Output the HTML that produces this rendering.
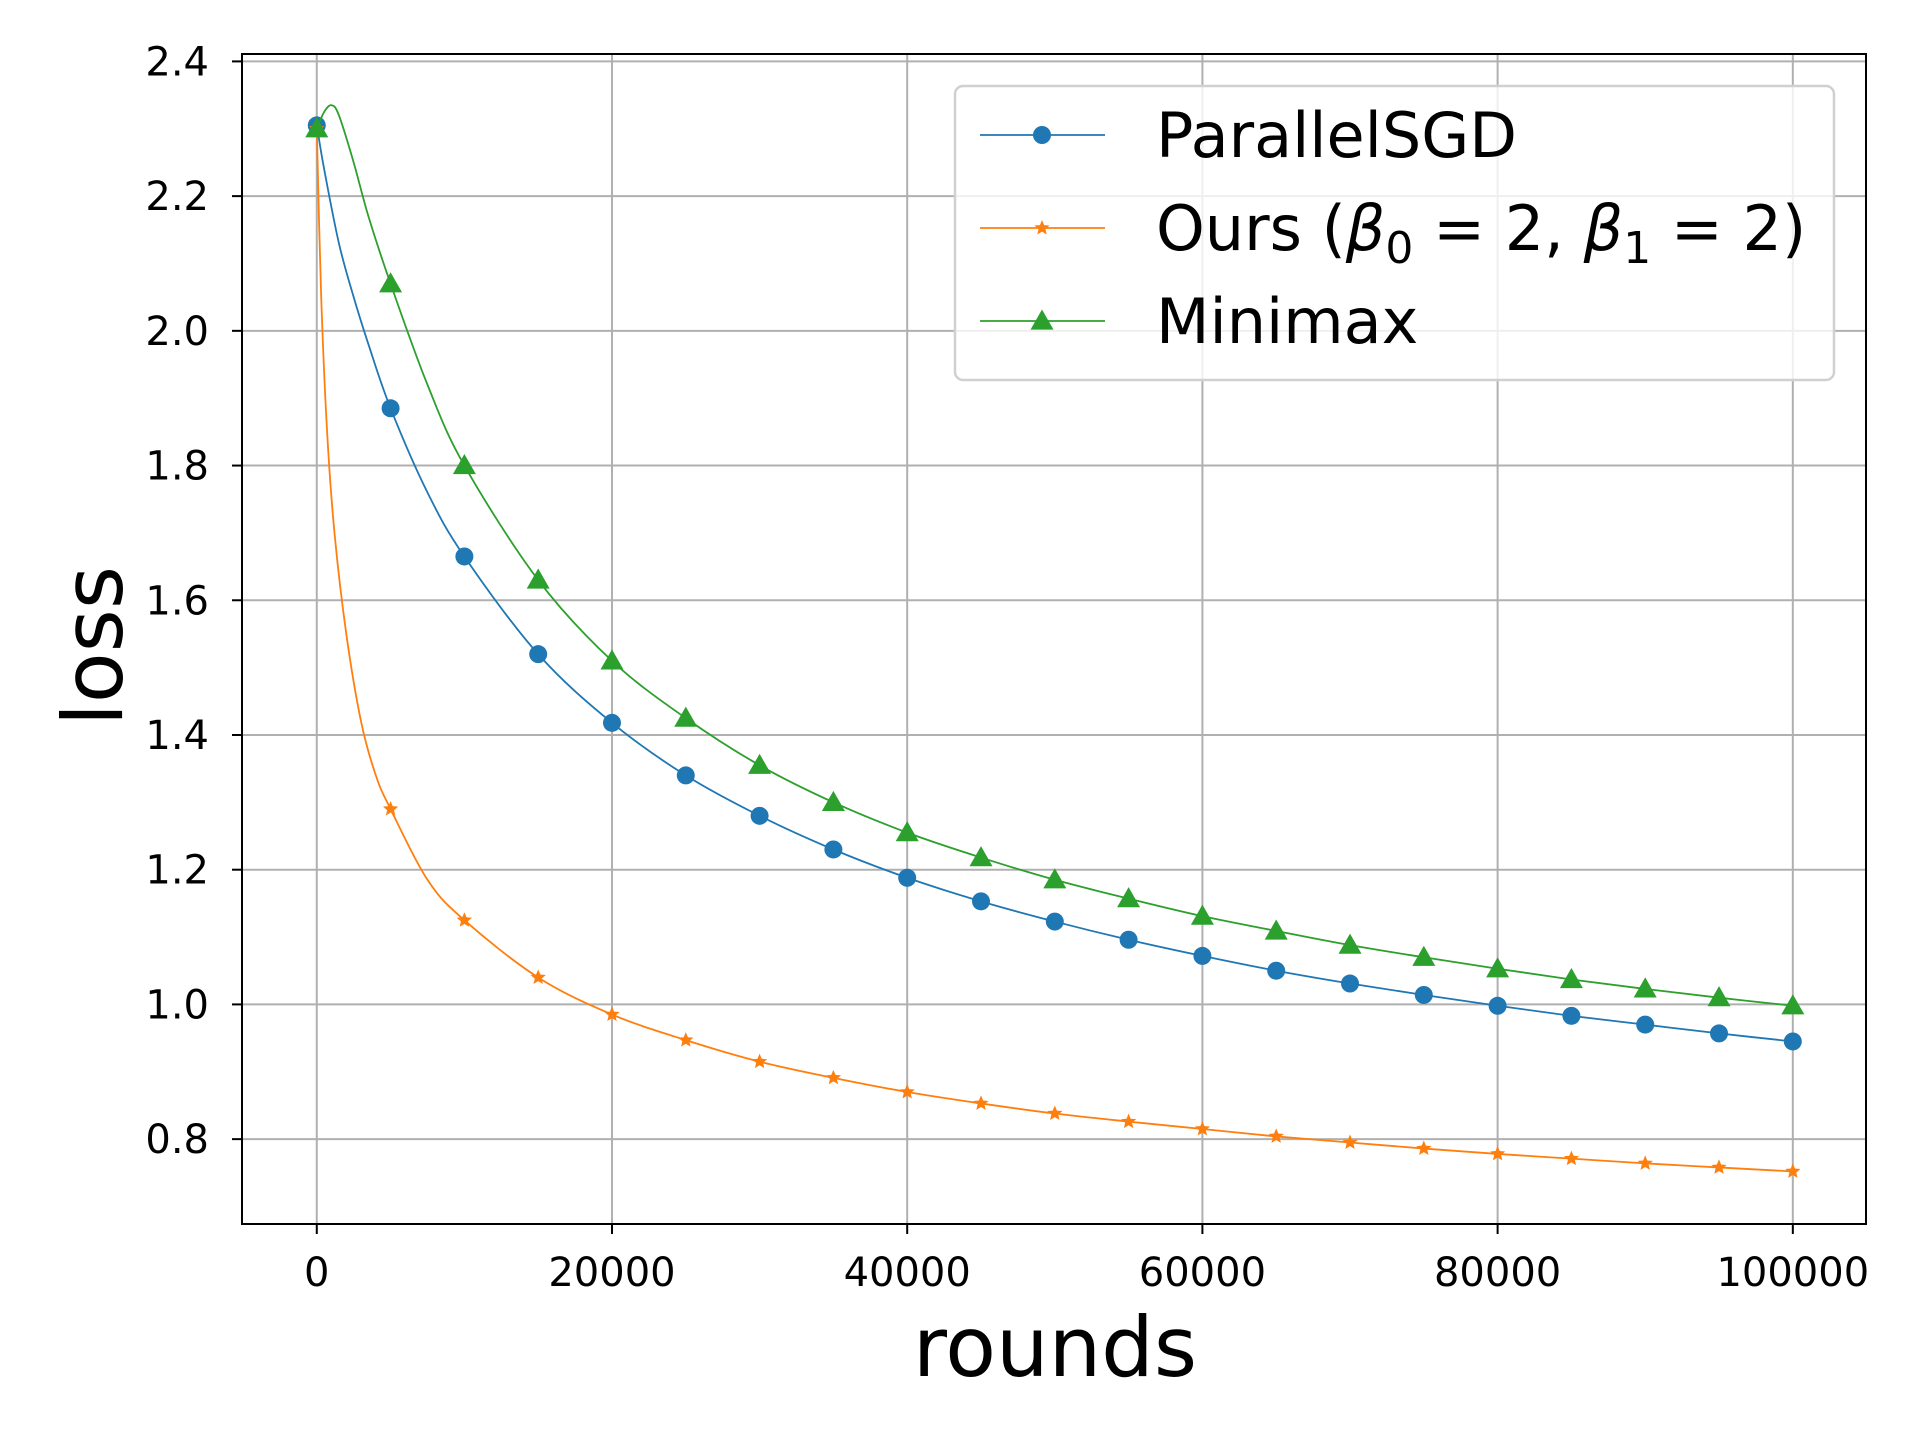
<!DOCTYPE html>
<html><head><meta charset="utf-8"><style>
html,body{margin:0;padding:0;background:#fff;}
svg text{font-family:"DejaVu Sans","Liberation Sans",sans-serif;}
</style></head><body>
<svg id="chart" width="1920" height="1440" viewBox="0 0 1920 1440" xmlns="http://www.w3.org/2000/svg">
<rect width="1920" height="1440" fill="#fff"/>
<g id="grid"></g>
<g id="series"></g>
<rect x="242" y="54" width="1624" height="1170" fill="none" stroke="#000" stroke-width="2"/>
<g id="ticks"></g>
<text x="1055" y="1376" font-size="83" text-anchor="middle">rounds</text>
<text transform="translate(122,646) rotate(-90)" font-size="83" text-anchor="middle">loss</text>
<g id="legend"></g>
</svg>
<script>
const xTicks=[0,20000,40000,60000,80000,100000];
const yTicks=[0.8,1.0,1.2,1.4,1.6,1.8,2.0,2.2,2.4];
const markerRounds=[0,5000,10000,15000,20000,25000,30000,35000,40000,45000,50000,55000,60000,65000,70000,75000,80000,85000,90000,95000,100000];
const sgdValues=[2.305,1.885,1.665,1.52,1.418,1.34,1.28,1.23,1.188,1.153,1.123,1.096,1.072,1.05,1.031,1.014,0.998,0.983,0.97,0.957,0.945];
const oursValues=[2.3,1.29,1.125,1.04,0.985,0.947,0.915,0.891,0.87,0.853,0.838,0.826,0.815,0.804,0.795,0.786,0.778,0.771,0.764,0.758,0.752];
const minimaxValues=[2.3,2.07,1.80,1.63,1.51,1.425,1.355,1.30,1.255,1.218,1.185,1.157,1.131,1.109,1.088,1.07,1.053,1.037,1.023,1.01,0.998];
const sgdEarlyRounds=[500,1500,2500,3500,7500];
const sgdEarlyValues=[2.24,2.13,2.05,1.98,1.76];
const oursEarlyRounds=[300,700,1200,2000,3000,4000,7500];
const oursEarlyValues=[2.05,1.85,1.7,1.55,1.42,1.34,1.185];
const minimaxEarlyRounds=[500,1000,1500,2500,3500,7500];
const minimaxEarlyValues=[2.325,2.335,2.32,2.25,2.17,1.92];

const NS='http://www.w3.org/2000/svg';
const X0=242,X1=1866,Y0=54,Y1=1224;
const xMin=-5066,xMax=104958,yMin=0.674,yMax=2.411;
function xs(v){return X0+(v-xMin)/(xMax-xMin)*(X1-X0);}
function ys(v){return Y1-(v-yMin)/(yMax-yMin)*(Y1-Y0);}
function mk(tag,attrs,parent){const e=document.createElementNS(NS,tag);for(const k in attrs)e.setAttribute(k,attrs[k]);parent.appendChild(e);return e;}
const grid=document.getElementById('grid'),ticks=document.getElementById('ticks'),series=document.getElementById('series'),legend=document.getElementById('legend');
xTicks.forEach(t=>{
  const g=mk('line',{x1:xs(t),x2:xs(t),y1:Y0,y2:Y1,stroke:'#b0b0b0','stroke-width':2},grid);
  
  
  const tk=mk('line',{x1:xs(t),x2:xs(t),y1:Y1,y2:Y1+10,stroke:'#000','stroke-width':2},ticks);
  
  
  const tx=mk('text',{x:xs(t),y:Y1+62,'font-size':40,'text-anchor':'middle'},ticks);
  tx.textContent=t;
  
  
});
yTicks.forEach(t=>{
  const g=mk('line',{x1:X0,x2:X1,y1:ys(t),y2:ys(t),stroke:'#b0b0b0','stroke-width':2},grid);
  
  
  const tk=mk('line',{x1:X0-10,x2:X0,y1:ys(t),y2:ys(t),stroke:'#000','stroke-width':2},ticks);
  
  
  const tx=mk('text',{x:X0-33,y:ys(t)+14,'font-size':40,'text-anchor':'end'},ticks);
  tx.textContent=t.toFixed(1);
  
  
});
function merge(er,ev,vals){
  const pts=markerRounds.map((r,i)=>[r,vals[i]]).concat(er.map((r,i)=>[r,ev[i]]));
  pts.sort((a,b)=>a[0]-b[0]);return pts;
}
function smoothPath(pts){
  const p=pts.map(q=>[xs(q[0]),ys(q[1])]);
  let d='M'+p[0][0]+','+p[0][1];
  for(let i=0;i<p.length-1;i++){
    const a=p[i-1]||p[i],b=p[i],c=p[i+1],e=p[i+2]||c;
    const c1=[b[0]+(c[0]-a[0])/6,b[1]+(c[1]-a[1])/6],c2=[c[0]-(e[0]-b[0])/6,c[1]-(e[1]-b[1])/6];
    d+=' C'+c1+' '+c2+' '+c;
  }
  return d;
}
function marker(type,x,y,color,parent,size){
  let el;
  if(type==='circle') el=mk('circle',{cx:x,cy:y,r:size,fill:color},parent);
  else if(type==='tri'){const s=size*1.15;el=mk('polygon',{points:`${x},${y-s} ${x-s},${y+s*0.75} ${x+s},${y+s*0.75}`,fill:color},parent);}
  else {let pts=[];for(let k=0;k<10;k++){const r=k%2?size*0.45:size;const a=-Math.PI/2+k*Math.PI/5;pts.push((x+r*Math.cos(a))+','+(y+r*Math.sin(a)));}
    el=mk('polygon',{points:pts.join(' '),fill:color},parent);}
  return el;
}
const defs=[
  {name:'parallelsgd',label:'ParallelSGD',color:'#1f77b4',vals:sgdValues,er:sgdEarlyRounds,ev:sgdEarlyValues,m:'circle',ms:9},
  {name:'ours',label:'Ours (<tspan font-style="italic">β</tspan><tspan font-size="44" dy="13">0</tspan><tspan dy="-13"> = 2, </tspan><tspan font-style="italic">β</tspan><tspan font-size="44" dy="13">1</tspan><tspan dy="-13"> = 2)</tspan>',color:'#ff7f0e',vals:oursValues,er:oursEarlyRounds,ev:oursEarlyValues,m:'star',ms:8},
  {name:'minimax',label:'Minimax',color:'#2ca02c',vals:minimaxValues,er:minimaxEarlyRounds,ev:minimaxEarlyValues,m:'tri',ms:10}
];
defs.forEach(s=>{
  const g=mk('g',{},series);
  
  
  const path=mk('path',{d:smoothPath(merge(s.er,s.ev,s.vals)),fill:'none',stroke:s.color,'stroke-width':1.8},g);
  
  
  markerRounds.forEach((r,i)=>{
    const m=marker(s.m,xs(r),ys(s.vals[i]),s.color,g,s.ms);
    
    
  });
});
const box=mk('rect',{x:955,y:86,width:879,height:294,rx:8,fill:'#fff','fill-opacity':0.8,stroke:'#d0d0d0','stroke-width':2.5},legend);


defs.forEach((s,i)=>{
  const y=135+i*93;
  const g=mk('g',{},legend);
  
  
  mk('line',{x1:980,x2:1105,y1:y,y2:y,stroke:s.color,'stroke-width':1.8},g);
  marker(s.m,1042,y,s.color,g,s.ms);
  const t=mk('text',{x:1156,y:y+22,'font-size':62},g);
  t.innerHTML=s.label;
});
</script>
</body></html>
